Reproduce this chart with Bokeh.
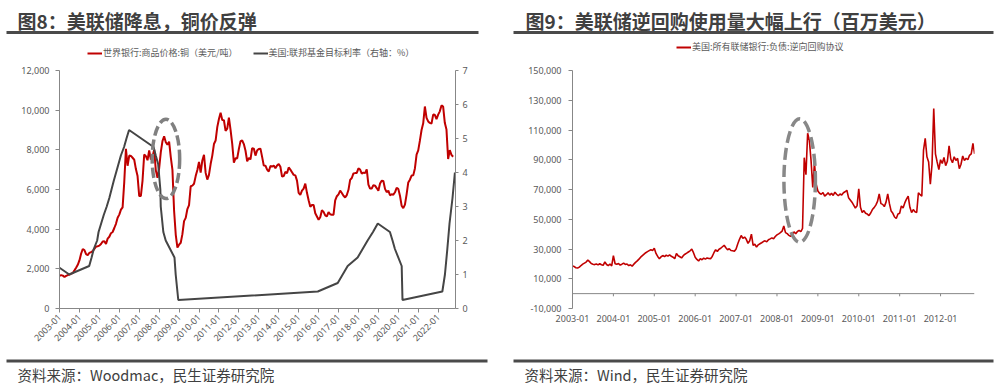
import math
import numpy as np
from bokeh.plotting import figure
from bokeh.layouts import column, row
from bokeh.models import (Range1d, LinearAxis, FixedTicker, NumeralTickFormatter,
                          Legend, LegendItem, Span)
from bokeh.core.properties import value
from bokeh.embed import file_html
from bokeh.resources import INLINE

# ------------------------------------------------------------------ texts
title_left = "图8：美联储降息，铜价反弹"
title_right = "图9：美联储逆回购使用量大幅上行（百万美元）"
source_left = "资料来源：Woodmac，民生证券研究院"
source_right = "资料来源：Wind，民生证券研究院"
copper_name = "世界银行:商品价格:铜（美元/吨）"
fed_name = "美国:联邦基金目标利率（右轴：%）"
rrp_name = "美国:所有联储银行:负债:逆向回购协议"

# ------------------------------------------------------------------ data (left)
copper_start = 2003.0  # monthly, 2003-01 ... 2022-10
copper_values = [
    1648, 1684, 1658, 1587, 1647, 1686, 1714, 1761, 1791, 1923, 2056, 2201,
    2423, 2759, 3000, 2949, 2737, 2686, 2808, 2846, 2893, 3009, 3118, 3142,
    3169, 3254, 3379, 3394, 3249, 3525, 3617, 3797, 3857, 4059, 4269, 4577,
    4734, 4982, 5102, 6387, 8046, 7198, 7711, 7694, 7600, 7500, 7029, 6676,
    5669, 5676, 6452, 7766, 7682, 7475, 7973, 7510, 7652, 8008, 6965, 6588,
    7061, 7888, 8439, 8685, 8383, 8260, 8414, 7634, 6991, 4926, 3717, 3072,
    3220, 3315, 3750, 4407, 4569, 5014, 5216, 6165, 6196, 6288, 6676, 6982,
    7386, 6848, 7463, 7745, 6838, 6499, 6735, 7284, 7709, 8292, 8470, 9147,
    9556, 9868, 9503, 9493, 8960, 9067, 9619, 9001, 8300, 7350, 7581, 7566,
    8041, 8441, 8470, 8289, 7955, 7423, 7584, 7516, 8088, 8062, 7711, 7967,
    8047, 8061, 7645, 7204, 7203, 7000, 6907, 7186, 7159, 7203, 7071, 7215,
    7291, 7149, 6650, 6674, 6891, 6821, 7113, 7002, 6872, 6737, 6713, 6446,
    5831, 5729, 5940, 6042, 6295, 5833, 5457, 5127, 5217, 5216, 4800, 4639,
    4472, 4599, 4954, 4873, 4695, 4642, 4864, 4751, 4722, 4731, 5450, 5660,
    5755, 5941, 5825, 5684, 5600, 5720, 5985, 6486, 6581, 6809, 6826, 6834,
    7066, 7007, 6800, 6852, 6825, 7018, 6250, 6049, 6051, 6222, 6195, 6072,
    5939, 6301, 6439, 6429, 6032, 5867, 5941, 5709, 5760, 5737, 5860, 6077,
    6031, 5687, 5183, 5057, 5239, 5755, 6354, 6497, 6705, 6713, 7064, 7756,
    7971, 8461, 8999, 9336, 10184, 9612, 9434, 9357, 9324, 9778, 9765, 9551,
    9776, 9941, 10238, 10183, 9361, 9029, 7536, 7983, 7746, 7651,
]

# fed funds target rate, plotted at change dates (decimal year)
fed_dates = [2003.00, 2003.49, 2004.49, 2004.61, 2004.72, 2004.89, 2004.96, 2005.09,
             2005.22, 2005.37, 2005.50, 2005.61, 2005.72, 2005.84, 2005.96, 2006.08,
             2006.24, 2006.36, 2006.49, 2007.72, 2007.83, 2007.95, 2008.06, 2008.08,
             2008.21, 2008.33, 2008.77, 2008.83, 2008.96, 2015.96, 2016.96, 2017.21,
             2017.46, 2017.96, 2018.21, 2018.46, 2018.73, 2018.97, 2019.58, 2019.71,
             2019.83, 2020.17, 2020.21, 2022.21, 2022.34, 2022.46, 2022.57, 2022.72,
             2022.84]
fed_values = [1.20, 1.00, 1.25, 1.50, 1.75, 2.00, 2.25, 2.50,
              2.75, 3.00, 3.25, 3.50, 3.75, 4.00, 4.25, 4.50,
              4.75, 5.00, 5.25, 4.75, 4.50, 4.25, 3.50, 3.00,
              2.25, 2.00, 1.50, 1.00, 0.25, 0.50, 0.75, 1.00,
              1.25, 1.50, 1.75, 2.00, 2.25, 2.50, 2.25, 2.00,
              1.75, 1.25, 0.25, 0.50, 1.00, 1.75, 2.50, 3.25,
              4.00]

left_years = list(range(2003, 2023))
left_tick_labels = [f"{y}-01" for y in left_years]
copper_ticks = [0, 2000, 4000, 6000, 8000, 10000, 12000]
rate_ticks = [0, 1, 2, 3, 4, 5, 6, 7]

# ------------------------------------------------------------------ data (right)
rrp_start = 2003.0  # half-monthly samples, 2003-01 ... 2012-11
rrp_values = [
    # 2003
    18600, 18200, 17400, 17200, 17800, 18900, 19800, 20500, 21200, 22600, 21500, 20200,
    19800, 19500, 19900, 19300, 20100, 19400, 19000, 21300, 19600, 18800, 19900, 18600,
    # 2004
    25500, 20100, 19700, 20200, 19200, 19800, 20500, 19600, 19900, 18800, 19400, 18500,
    19800, 21000, 22000, 23200, 24500, 25500, 26500, 27500, 28200, 28900, 29500, 29000,
    # 2005
    30500, 27000, 25000, 23500, 24800, 25600, 24900, 25800, 25200, 26000, 25100, 24500,
    23500, 27000, 25500, 24800, 24000, 25500, 26500, 27200, 28000, 28800, 29900, 27500,
    # 2006
    24500, 23000, 22000, 23500, 22800, 23900, 23200, 24000, 23600, 23500, 25000, 27500,
    29500, 28400, 29800, 30500, 31500, 32500, 30800, 29500, 30200, 29000, 28800, 28500,
    # 2007
    30000, 33500, 36500, 39100, 37200, 38000, 36500, 33800, 35500, 40000, 32500, 33200,
    31300, 32800, 33500, 34200, 35000, 35500, 34800, 36200, 36800, 37500, 36900, 38400,
    # 2008
    39500, 40200, 41000, 42000, 45500, 41000, 40300, 39200, 38500, 39800, 41500, 40200,
    41800, 42500, 41600, 43900, 91400, 80000, 107800, 103000, 89400, 71400, 88000, 73500,
    # 2009
    69000, 67500, 66800, 68000, 65500, 66500, 67800, 66200, 67400, 66000, 68200, 66800,
    65800, 67000, 66300, 67800, 68500, 69500, 64500, 63000, 61500, 59500, 57500, 59000,
    # 2010
    70500, 58000, 54500, 55800, 54000, 53500, 52500, 54200, 56500, 57800, 59500, 62000,
    67000, 60500, 60000, 58500, 61500, 67000, 60500, 55500, 54000, 51500, 50500, 53500,
    # 2011
    54000, 59000, 57500, 61000, 63500, 65500, 58000, 54500, 56500, 55000, 54500, 67800,
    66500, 65500, 96400, 104400, 92000, 88500, 73500, 87000, 124400, 94000, 88500, 83400,
    # 2012
    90000, 87500, 91500, 86000, 89000, 99400, 90500, 88000, 92000, 89500, 91000, 84000,
    87000, 92500, 89500, 91000, 90000, 93000, 94000, 101000, 94000,
]
right_years = list(range(2003, 2013))
right_tick_labels = [f"{y}-01" for y in right_years]
rrp_ticks = list(range(-10000, 150001, 20000))

# highlight ellipses (annotation geometry, data units)
left_ellipse = dict(x=2008.34, y=7540, w=1.38, h=4000)
right_ellipse = dict(x=2008.555, y=76050, w=0.77, h=82900)

# ------------------------------------------------------------------ style
FONT = "Noto Sans CJK SC"
NUM_FONT = "Noto Sans"
AXIS_COLOR = "#878787"
LABEL_COLOR = "#595959"
TEXT_DARK = "#404040"
BAR_COLOR = "#4a4a4a"
RED = "#C00000"
GRAY_LINE = "#454545"
W = 1001


def style_axis(ax, standoff, tick_out):
    ax.axis_line_color = AXIS_COLOR
    ax.axis_line_width = 1
    ax.major_tick_line_color = AXIS_COLOR
    ax.major_tick_out = tick_out
    ax.major_tick_in = 0
    ax.minor_tick_line_color = None
    ax.major_label_text_font = NUM_FONT
    ax.major_label_text_font_size = "9px"
    ax.major_label_text_color = LABEL_COLOR
    ax.major_label_standoff = standoff


def deco_figure(y_top, y_bottom):
    f = figure(width=W, height=y_bottom - y_top, x_range=Range1d(0, W),
               y_range=Range1d(y_bottom, y_top), x_axis_location=None,
               y_axis_location=None, min_border=0, toolbar_location=None,
               output_backend="svg", title=None)
    f.outline_line_color = None
    f.grid.visible = False
    return f


def legend_for(items, loc, spacing):
    return Legend(items=items, location=loc, orientation="horizontal",
                  glyph_width=15, glyph_height=12, label_height=12,
                  label_standoff=1, spacing=spacing, padding=0, margin=0,
                  border_line_color=None, background_fill_alpha=0,
                  label_text_font=FONT, label_text_font_size="9px",
                  label_text_color=LABEL_COLOR, label_text_baseline="middle")


# ------------------------------------------------------------------ header (titles + legends)
TOP_H = 59
top = deco_figure(0, TOP_H)
top.quad(left=[6, 513], right=[478, 993], top=[30.5, 30.5], bottom=[33.5, 33.5],
         fill_color=BAR_COLOR, line_color=None)
top.text(x=[17, 525], y=[19.5, 19.5], text=[title_left, title_right],
         text_font=value(FONT), text_font_size="19px", text_font_style="bold",
         text_color=TEXT_DARK, text_baseline="middle", text_align="left")
# legend key renderers: styled like the series, kept off-canvas (legend keys only)
key_x = [-30, -15]
key_y = [0, 0]
k_cu = top.line(x=key_x, y=key_y, line_color=RED, line_width=2)
k_fed = top.line(x=key_x, y=key_y, line_color=GRAY_LINE, line_width=2)
k_rrp = top.line(x=key_x, y=key_y, line_color=RED, line_width=2)
top.add_layout(legend_for([LegendItem(label=copper_name, renderers=[k_cu]),
                           LegendItem(label=fed_name, renderers=[k_fed])],
                          (87, TOP_H - 59), 15), "center")
top.add_layout(legend_for([LegendItem(label=rrp_name, renderers=[k_rrp])],
                          (676, TOP_H - 53), 20), "center")

# ------------------------------------------------------------------ footer
BOT_Y0 = 358
bottom = deco_figure(BOT_Y0, 385)
bottom.quad(left=[6, 513], right=[487, 993], top=[359, 359], bottom=[362, 362],
            fill_color=BAR_COLOR, line_color=None)
bottom.text(x=[17, 524], y=[373.5, 373.5], text=[source_left, source_right],
            text_font=value(FONT), text_font_size="14.5px",
            text_color=TEXT_DARK, text_baseline="middle", text_align="left")

PLOT_H = BOT_Y0 - TOP_H  # 299

# ------------------------------------------------------------------ left chart
cu_dates = copper_start + np.arange(len(copper_values)) / 12.0

p1 = figure(width=500, height=PLOT_H, x_range=Range1d(2003.0, 2022.87),
            y_range=Range1d(0, 12000), min_border_left=59, min_border_right=45,
            min_border_top=70 - TOP_H, min_border_bottom=BOT_Y0 - 308,
            output_backend="svg", toolbar_location=None, title=None)
p1.outline_line_color = None
p1.grid.visible = False
p1.extra_y_ranges = {"rate": Range1d(0, 7)}

r_cu = p1.line(cu_dates, copper_values, line_color=RED, line_width=2)
r_fed = p1.line(fed_dates, fed_values, y_range_name="rate",
                line_color=GRAY_LINE, line_width=2)
p1.ellipse(x=[left_ellipse["x"]], y=[left_ellipse["y"]], width=[left_ellipse["w"]],
           height=[left_ellipse["h"]], fill_color=None, line_color="#808080",
           line_width=3.5, line_dash="10 4")

ax_l = p1.left[0]
ax_l.ticker = FixedTicker(ticks=copper_ticks)
ax_l.formatter = NumeralTickFormatter(format="0,0")
style_axis(ax_l, 6, 4)

ax_r = LinearAxis(y_range_name="rate", ticker=FixedTicker(ticks=rate_ticks))
style_axis(ax_r, 4, 3)
p1.add_layout(ax_r, "right")

ax_b = p1.below[0]
ax_b.ticker = FixedTicker(ticks=left_years)
ax_b.major_label_overrides = {y: lab for y, lab in zip(left_years, left_tick_labels)}
ax_b.major_label_orientation = math.pi / 4
style_axis(ax_b, 3, 4)

# ------------------------------------------------------------------ right chart
rrp_dates = rrp_start + np.arange(len(rrp_values)) / 24.0

p2 = figure(width=W - 500, height=PLOT_H, x_range=Range1d(2003.0, 2012.83),
            y_range=Range1d(-10000, 150000), min_border_left=72, min_border_right=27,
            min_border_top=66 - TOP_H, min_border_bottom=BOT_Y0 - 333,
            output_backend="svg", toolbar_location=None, title=None)
p2.outline_line_color = None
p2.grid.visible = False

# zero line acting as the category axis line, with small ticks at each year
p2.add_layout(Span(location=0, dimension="width", line_color=AXIS_COLOR, line_width=1))
tick_len = 160000 / 267 * 3
p2.segment(x0=right_years, x1=right_years, y0=[0] * len(right_years),
           y1=[-tick_len] * len(right_years), line_color=AXIS_COLOR, line_width=1)

r_rrp = p2.line(rrp_dates, rrp_values, line_color=RED, line_width=1.6)
p2.ellipse(x=[right_ellipse["x"]], y=[right_ellipse["y"]], width=[right_ellipse["w"]],
           height=[right_ellipse["h"]], fill_color=None, line_color="#888888",
           line_width=3.5, line_dash="12 5")

ay = p2.left[0]
ay.ticker = FixedTicker(ticks=rrp_ticks)
ay.formatter = NumeralTickFormatter(format="0,0")
style_axis(ay, 7, 4)

axx = p2.below[0]
axx.ticker = FixedTicker(ticks=right_years)
axx.major_label_overrides = {y: lab for y, lab in zip(right_years, right_tick_labels)}
style_axis(axx, 6, 0)
axx.axis_line_color = None
axx.major_tick_line_color = None

layout = column(top, row(p1, p2), bottom)
open("out.html", "w").write(file_html(layout, INLINE))
